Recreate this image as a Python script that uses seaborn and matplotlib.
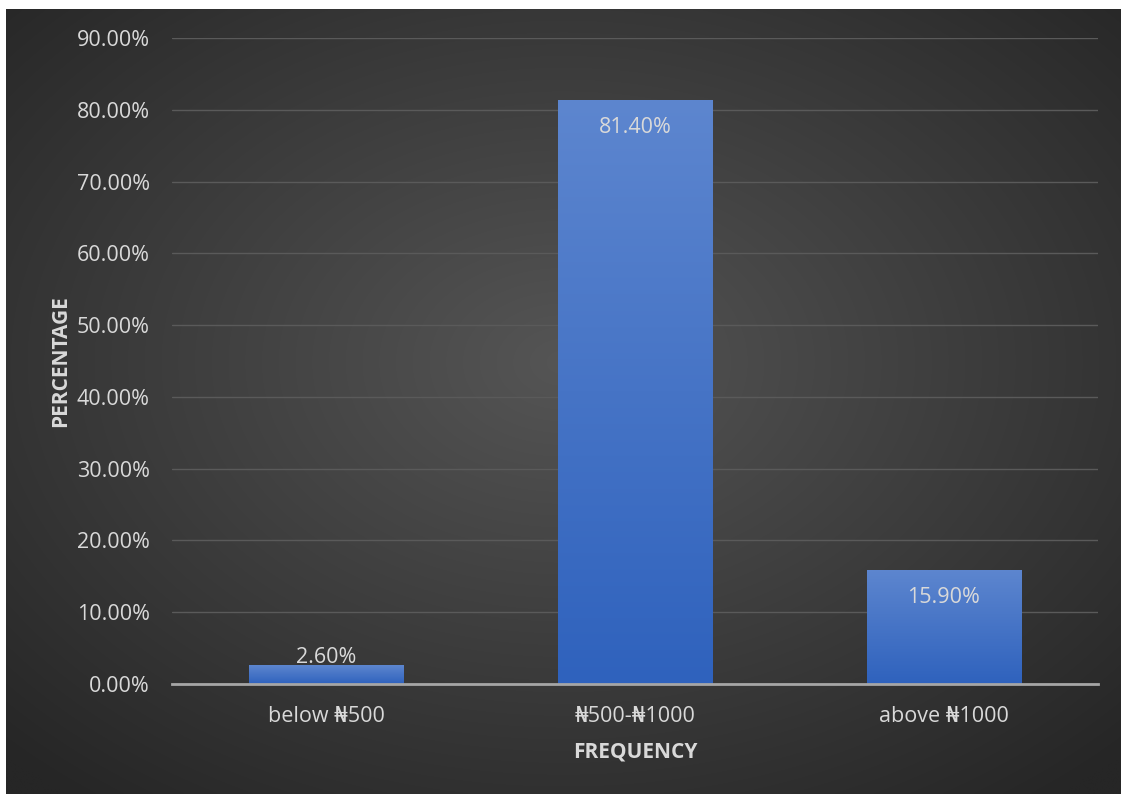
import numpy as np
import pandas as pd
import matplotlib
matplotlib.use("Agg")
import matplotlib.pyplot as plt
import seaborn as sns

categories = ["below ₦500", "₦500-₦1000", "above ₦1000"]
values = [2.60, 81.40, 15.90]
value_labels = ["2.60%", "81.40%", "15.90%"]
y_ticks = [0, 10, 20, 30, 40, 50, 60, 70, 80, 90]
y_tick_labels = ["0.00%", "10.00%", "20.00%", "30.00%", "40.00%", "50.00%",
                 "60.00%", "70.00%", "80.00%", "90.00%"]

sns.set_theme(style="dark")
plt.rcParams['font.family'] = ['Open Sans', 'DejaVu Sans']

W, H = 1123, 794
fig = plt.figure(figsize=(W / 100, H / 100), dpi=100, facecolor="white")

# background with radial gradient
bg = fig.add_axes([6 / W, 0, 1115 / W, 785 / H], zorder=0)
yy, xx = np.mgrid[-1:1:400j, -1:1:560j]
r = np.sqrt(xx ** 2 + (yy + 0.1) ** 2) / np.sqrt(2)
r = np.clip(r, 0, 1)
lo = np.array([0x26, 0x26, 0x26]) / 255
hi = np.array([0x55, 0x55, 0x55]) / 255
img = hi[None, None, :] * (1 - r[..., None]) + lo[None, None, :] * r[..., None]
bg.imshow(img, aspect="auto", extent=[0, 1, 0, 1], interpolation="bilinear")
bg.set_axis_off()

ax = fig.add_axes([172 / W, 1 - 684 / H, 926 / W, (684 - 38) / H], zorder=1)
ax.patch.set_alpha(0)

df = pd.DataFrame({"cat": categories, "val": values})
sns.barplot(data=df, x="cat", y="val", ax=ax, width=0.5, color="#4472c4",
            saturation=1, zorder=3)

# gradient fill on bars
grad = np.linspace(0, 1, 256)[:, None]
top_c = np.array([0x5d, 0x86, 0xcf]) / 255
bot_c = np.array([0x2f, 0x62, 0xbd]) / 255
gimg = top_c[None, None, :] * (1 - grad[..., None]) + bot_c[None, None, :] * grad[..., None]
gimg = np.repeat(gimg, 2, axis=1)
for p in ax.patches:
    x0, y0 = p.get_x(), p.get_y()
    w, h = p.get_width(), p.get_height()
    im = ax.imshow(gimg, extent=[x0, x0 + w, y0, y0 + h], aspect="auto",
                   zorder=4, interpolation="bilinear")
    im.set_clip_path(p)
    p.set_edgecolor("none")

ax.set_xlim(-0.5, 2.5)
ax.set_ylim(0, 90)
ax.set_yticks(y_ticks)
ax.set_yticklabels(y_tick_labels)

ax.grid(axis="y", color="#5a5a5a", linewidth=1.0, zorder=0)
ax.grid(axis="x", visible=False)
for s in ["top", "right", "left"]:
    ax.spines[s].set_visible(False)
ax.spines["bottom"].set_color("#a6a6a6")
ax.spines["bottom"].set_linewidth(2)
ax.spines["bottom"].set_zorder(5)

ax.tick_params(axis="both", colors="#d9d9d9", labelsize=15.5, length=0)
ax.tick_params(axis="y", pad=16)
ax.tick_params(axis="x", pad=16)

ax.set_xlabel("FREQUENCY", color="#d9d9d9", fontsize=15, fontweight="bold", labelpad=10)
ax.set_ylabel("PERCENTAGE", color="#d9d9d9", fontsize=15, fontweight="bold", labelpad=4)

for i, (v, lab) in enumerate(zip(values, value_labels)):
    off = -28 if v > 10 else 8
    ax.annotate(lab, xy=(i, v), xytext=(0, off), textcoords="offset pixels",
                ha="center", va="center", color="#d9d9d9", fontsize=15.5, zorder=6)

fig.savefig("out.png", dpi=100, facecolor="white")
